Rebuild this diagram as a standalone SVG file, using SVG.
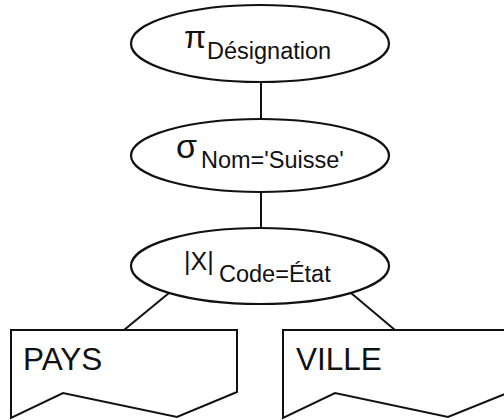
<svg xmlns="http://www.w3.org/2000/svg" width="504" height="420" viewBox="0 0 504 420">
  <style>
    .edge { stroke: #111; stroke-width: 2; fill: none; }
    .op { fill: #fff; stroke: #111; stroke-width: 2.2; }
    .rel { fill: #fff; stroke: #111; stroke-width: 2; stroke-linejoin: miter; }
    text { font-family: "Liberation Sans", Arial, sans-serif; fill: #111; }
    .sym { font-size: 32px; }
    .sub { font-size: 23.5px; }
    .name { font-size: 31.5px; }
  </style>
  <rect width="504" height="420" fill="#fff"/>

  <g id="connectors">
    <line class="edge" x1="261" y1="80" x2="261" y2="121"/>
    <line class="edge" x1="261" y1="190" x2="261" y2="230"/>
    <line class="edge" x1="169" y1="293" x2="124" y2="330"/>
    <line class="edge" x1="351" y1="293" x2="395" y2="330"/>
  </g>

  <g id="projection">
    <ellipse class="op" cx="260" cy="43.5" rx="129" ry="38.5"/>
    <text class="sym" x="184" y="48">π</text>
    <text class="sub" x="207" y="59">Désignation</text>
  </g>

  <g id="selection">
    <ellipse class="op" cx="260" cy="155.5" rx="129" ry="36.5"/>
    <text class="sym" x="176" y="158" style="font-size:34px">σ</text>
    <text class="sub" x="201" y="168">Nom='Suisse'</text>
  </g>

  <g id="join">
    <ellipse class="op" cx="260" cy="266" rx="129" ry="38"/>
    <text class="sym" x="184" y="270" style="font-size:25px">|X|</text>
    <text class="sub" x="219" y="282">Code=État</text>
  </g>

  <g id="pays">
    <path class="rel" d="M11,330 H237 V392 L177,417 L63,393 L11,418 Z"/>
    <text class="name" x="23" y="370">PAYS</text>
  </g>

  <g id="ville">
    <path class="rel" d="M283,330 H510 V392 L448,417 L335,393 L283,418 Z"/>
    <text class="name" x="296" y="370">VILLE</text>
  </g>
</svg>
